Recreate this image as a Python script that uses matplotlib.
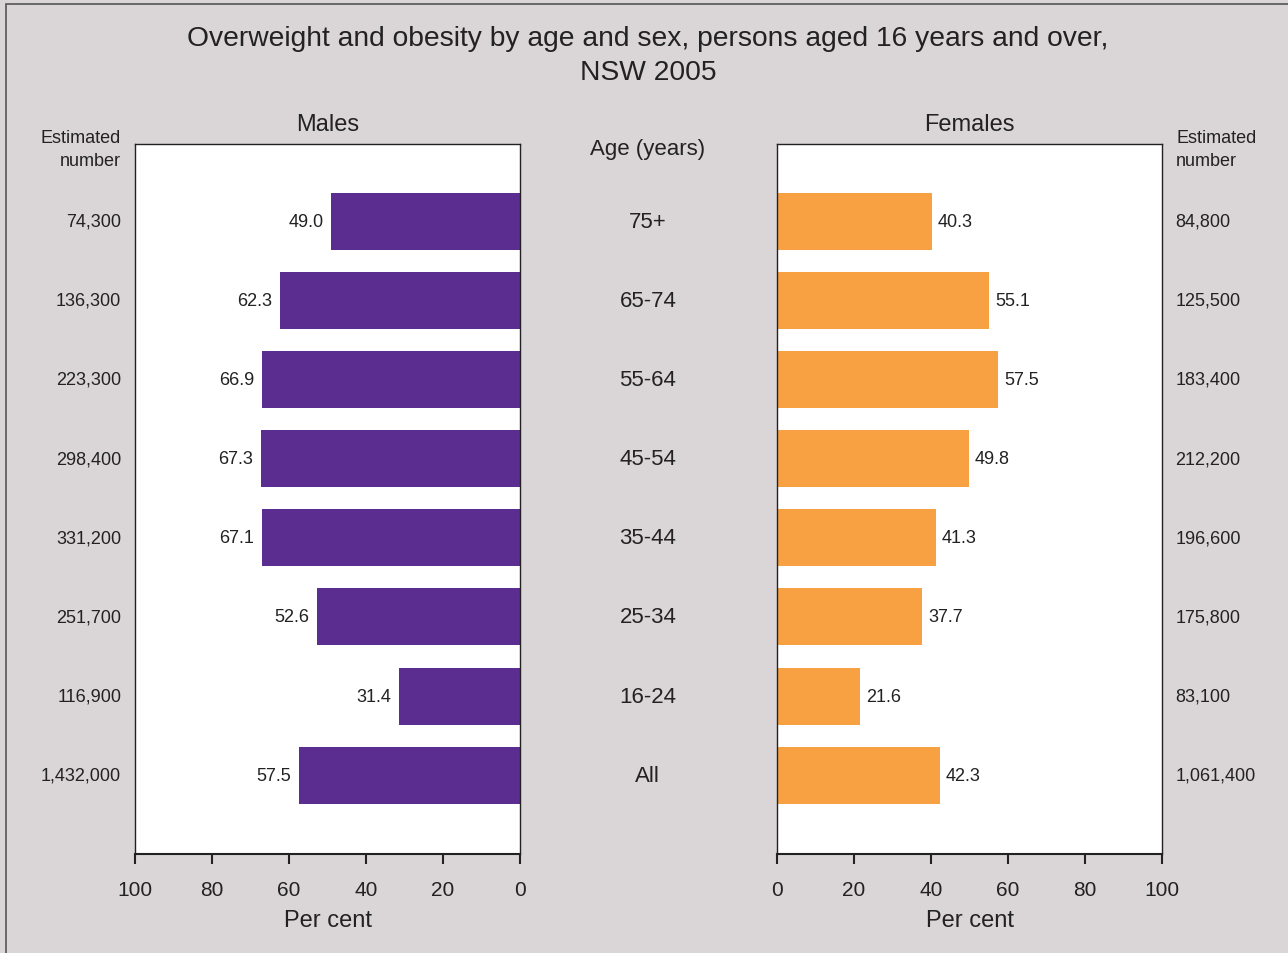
import matplotlib.pyplot as plt
from matplotlib.patches import Rectangle

plt.rcParams['font.family'] = ['Liberation Sans', 'DejaVu Sans']

# data (bottom to top)
ages = ['All', '16-24', '25-34', '35-44', '45-54', '55-64', '65-74', '75+']
males = [57.5, 31.4, 52.6, 67.1, 67.3, 66.9, 62.3, 49.0]
females = [42.3, 21.6, 37.7, 41.3, 49.8, 57.5, 55.1, 40.3]
males_n = ['1,432,000', '116,900', '251,700', '331,200', '298,400', '223,300', '136,300', '74,300']
females_n = ['1,061,400', '83,100', '175,800', '196,600', '212,200', '183,400', '125,500', '84,800']
ticks = [0, 20, 40, 60, 80, 100]

bg = '#dad5d7'
purple = '#5c2d91'
orange = '#f8a142'
txt = '#222222'

fig = plt.figure(figsize=(12.88, 9.54), dpi=100)
fig.patch.set_facecolor(bg)
fig.patches.append(Rectangle((6/1288, -0.01), 1.02, 1 - 5/954 + 0.01,
                             transform=fig.transFigure, fill=False,
                             edgecolor='#555555', linewidth=1.2))

axL = fig.add_axes([135/1288, 1 - 855/954, 385/1288, 710/954])
axR = fig.add_axes([777/1288, 1 - 855/954, 385/1288, 710/954])

y = list(range(len(ages)))

axL.barh(y, males, height=0.72, color=purple)
axR.barh(y, females, height=0.72, color=orange)

axL.set_xlim(100, 0)
axR.set_xlim(0, 100)
for ax in (axL, axR):
    ax.set_ylim(-0.995, 7.975)
    ax.set_yticks([])
    ax.set_xticks(ticks)
    ax.tick_params(axis='x', direction='out', length=7, width=1.5, color=txt,
                   labelsize=15, labelcolor=txt, pad=12)
    for s in ax.spines.values():
        s.set_color(txt)
        s.set_linewidth(1.0)
    ax.spines['bottom'].set_linewidth(1.5)
    ax.set_xlabel('Per cent', fontsize=17, color=txt, labelpad=7)

for i in y:
    axL.text(males[i] + 2, i, f'{males[i]:.1f}', ha='right', va='center',
             fontsize=13, color=txt)
    axR.text(females[i] + 1.5, i, f'{females[i]:.1f}', ha='left', va='center',
             fontsize=13, color=txt)
    axL.text(-0.036, i, males_n[i], transform=axL.get_yaxis_transform(),
             ha='right', va='center', fontsize=13, color=txt)
    axR.text(1.035, i, females_n[i], transform=axR.get_yaxis_transform(),
             ha='left', va='center', fontsize=13, color=txt)
    axL.text(1.332, i, ages[i], transform=axL.get_yaxis_transform(),
             ha='center', va='center', fontsize=16, color=txt)

axL.set_title('Males', fontsize=17, color=txt, pad=10)
axR.set_title('Females', fontsize=17, color=txt, pad=10)

fig.text(121/1288, 1 - 150/954, 'Estimated\nnumber', ha='right', va='center',
         fontsize=13, color=txt, linespacing=1.4)
fig.text(1176/1288, 1 - 150/954, 'Estimated\nnumber', ha='left', va='center',
         fontsize=13, color=txt, linespacing=1.4)
fig.text(648/1288, 1 - 149/954, 'Age (years)', ha='center', va='center',
         fontsize=16, color=txt)
fig.text(648/1288, 1 - 56/954,
         'Overweight and obesity by age and sex, persons aged 16 years and over,\nNSW 2005',
         ha='center', va='center', fontsize=20.3, color=txt, linespacing=1.45)

fig.savefig('out.png', dpi=100, facecolor=bg)
